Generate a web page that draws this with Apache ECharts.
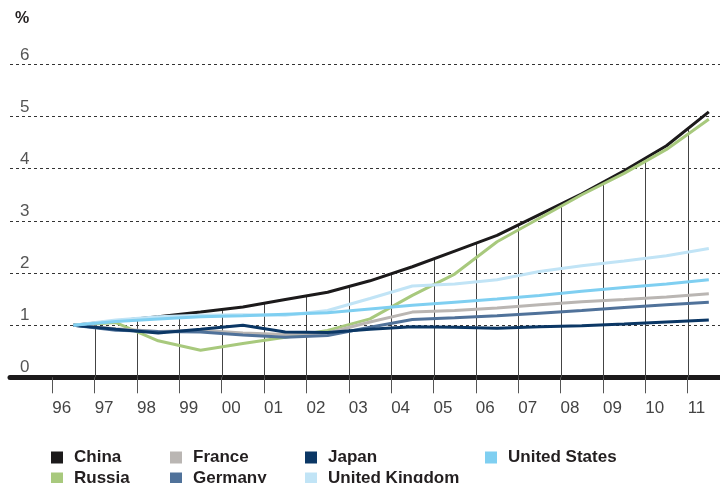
<!DOCTYPE html>
<html>
<head>
<meta charset="utf-8">
<script src="https://cdn.jsdelivr.net/npm/echarts/dist/echarts.min.js"></script>
<style>
  html, body { margin: 0; padding: 0; background: #ffffff; }
  #chart { width: 720px; height: 483px; }
</style>
</head>
<body>
<div id="chart"></div>
<script>
// Years on the category axis (one band per year)
const years = ['1996', '1997', '1998', '1999', '2000', '2001', '2002', '2003',
               '2004', '2005', '2006', '2007', '2008', '2009', '2010', '2011'];
// Labels written at the band boundaries
const tickLabels = ['96', '97', '98', '99', '00', '01', '02', '03',
                    '04', '05', '06', '07', '08', '09', '10', '11', ''];

// Index values, 1996 = 1
const china   = [1.00, 1.08, 1.16, 1.25, 1.35, 1.49, 1.63, 1.85, 2.12, 2.42, 2.72, 3.12, 3.52, 3.96, 4.44, 5.09];
const russia  = [1.00, 1.05, 0.70, 0.52, 0.65, 0.77, 0.90, 1.12, 1.57, 1.98, 2.60, 3.05, 3.50, 3.91, 4.37, 4.95];
const france  = [1.00, 0.93, 0.88, 0.90, 0.85, 0.82, 0.85, 1.06, 1.25, 1.28, 1.33, 1.39, 1.45, 1.49, 1.54, 1.60];
const germany = [1.00, 0.90, 0.88, 0.87, 0.81, 0.77, 0.80, 0.96, 1.11, 1.14, 1.18, 1.23, 1.28, 1.34, 1.39, 1.44];
const japan   = [1.00, 0.92, 0.85, 0.92, 1.00, 0.87, 0.86, 0.92, 0.97, 0.96, 0.94, 0.97, 0.99, 1.02, 1.06, 1.10];
const uk      = [1.00, 1.10, 1.16, 1.19, 1.20, 1.19, 1.28, 1.51, 1.75, 1.79, 1.87, 2.03, 2.14, 2.23, 2.33, 2.47];
const us      = [1.00, 1.07, 1.12, 1.16, 1.18, 1.21, 1.24, 1.31, 1.38, 1.44, 1.50, 1.57, 1.65, 1.72, 1.79, 1.87];

const seriesDefs = [
  { name: 'China',          data: china,   color: '#1c1a1b' },
  { name: 'Russia',         data: russia,  color: '#a8c97d' },
  { name: 'France',         data: france,  color: '#bab6b3' },
  { name: 'Germany',        data: germany, color: '#50729a' },
  { name: 'Japan',          data: japan,   color: '#0b3765' },
  { name: 'United Kingdom', data: uk,      color: '#c1e4f6' },
  { name: 'United States',  data: us,      color: '#7fcff1' }
];

// Vertical drop lines at each year boundary, reaching up to the highest line
const dropData = [];
for (let k = 1; k < years.length; k++) {
  let top = 0;
  seriesDefs.forEach(s => { top = Math.max(top, (s.data[k - 1] + s.data[k]) / 2); });
  dropData.push([k, top]);
}

const FONT = "'Liberation Sans', Arial, Helvetica, sans-serif";
const TOP = 64.4, BOTTOM = 105.7;

const chart = echarts.init(document.getElementById('chart'), null, { renderer: 'canvas' });

const legendBase = {
  orient: 'vertical',
  top: 449,
  height: 50,
  icon: 'rect',
  itemWidth: 12,
  itemHeight: 12,
  itemGap: 4,
  padding: 0,
  selectedMode: false,
  textStyle: { fontFamily: FONT, fontSize: 17, fontWeight: 'bold', color: '#231f20',
               lineHeight: 17, padding: [0, 0, 0, 6] }
};

chart.setOption({
  animation: false,
  backgroundColor: '#ffffff',
  grid: [
    { left: 10, right: 0, top: TOP, bottom: BOTTOM, outerBoundsMode: 'none', containLabel: false },
    { left: 52.3, right: -10, top: TOP, bottom: BOTTOM, outerBoundsMode: 'none', containLabel: false }
  ],
  xAxis: [
    { // thick baseline across the full width
      type: 'value', gridIndex: 0, position: 'bottom', min: 0, max: 1, offset: 2.5,
      axisLine: { show: true, lineStyle: { color: '#1c1a1b', width: 5 } },
      axisTick: { show: false }, axisLabel: { show: false }, splitLine: { show: false }
    },
    { // year bands that carry the data
      type: 'category', gridIndex: 1, position: 'bottom', data: years, boundaryGap: true, show: false
    },
    { // boundary ticks and year labels
      type: 'category', gridIndex: 1, position: 'bottom', offset: 0,
      data: tickLabels, boundaryGap: false,
      axisLine: { show: false },
      axisTick: { show: true, interval: 0, length: 16, lineStyle: { color: '#555', width: 1 } },
      axisLabel: { show: true, interval: 0, align: 'left', margin: 23,
                   fontFamily: FONT, fontSize: 17, color: '#444' },
      splitLine: { show: false }
    }
  ],
  yAxis: [
    {
      type: 'value', gridIndex: 0, min: 0, max: 6, interval: 1,
      axisLine: { show: false }, axisTick: { show: false },
      axisLabel: { inside: true, margin: 10, fontFamily: FONT, fontSize: 17, color: '#555',
                   verticalAlign: 'bottom', lineHeight: 17, padding: [0, 0, 1, 0] },
      splitLine: { show: true, lineStyle: { color: '#333', width: 1, type: [3, 3] } }
    },
    { type: 'value', gridIndex: 1, min: 0, max: 6, interval: 1, show: false, splitLine: { show: false } }
  ],
  legend: [
    Object.assign({}, legendBase, { left: 51, data: ['China', 'Russia'] }),
    Object.assign({}, legendBase, { left: 170, data: ['France', 'Germany'] }),
    Object.assign({}, legendBase, { left: 305, data: ['Japan', 'United Kingdom'] }),
    Object.assign({}, legendBase, { left: 485, data: ['United States'] })
  ],
  graphic: [
    { type: 'text', left: 15, top: 11,
      style: { text: '%', fontFamily: FONT, fontSize: 16, fontWeight: 'bold', fill: '#231f20' } }
  ],
  series: [
    {
      type: 'custom', name: 'drop', xAxisIndex: 1, yAxisIndex: 1, z: 1, silent: true,
      data: dropData,
      renderItem: function (params, api) {
        const p = api.coord([api.value(0), api.value(1)]);
        const base = api.coord([api.value(0), 0]);
        const half = api.size([1, 0])[0] / 2;
        const x = Math.round(p[0] - half) + 0.5;
        return {
          type: 'line',
          shape: { x1: x, y1: p[1], x2: x, y2: base[1] },
          style: { stroke: '#444', lineWidth: 1 }
        };
      }
    }
  ].concat(seriesDefs.map(s => ({
    type: 'line', name: s.name, data: s.data,
    xAxisIndex: 1, yAxisIndex: 1, z: 3,
    symbol: 'none', smooth: false,
    lineStyle: { color: s.color, width: 3 },
    itemStyle: { color: s.color }
  })))
});
</script>
</body>
</html>
